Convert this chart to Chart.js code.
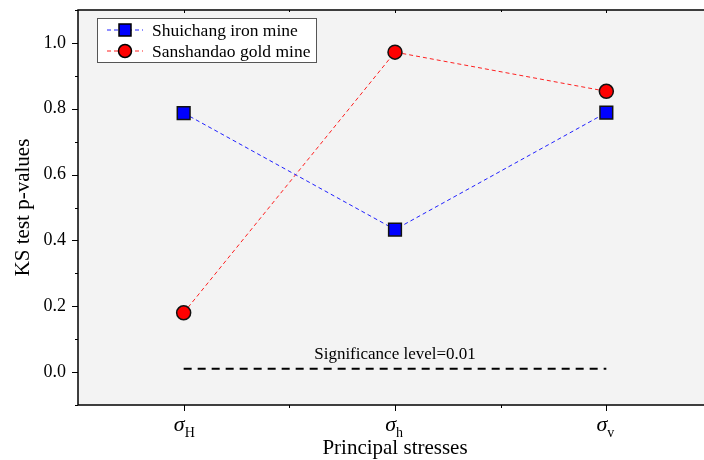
<!DOCTYPE html>
<html>
<head>
<meta charset="utf-8">
<script src="https://cdn.jsdelivr.net/npm/chart.js@4"></script>
<style>
  html, body { margin: 0; padding: 0; background: #fff; overflow: hidden; }
  #wrap { width: 716px; height: 460px; }
</style>
</head>
<body>
<div id="wrap"><canvas id="myChart" width="716" height="460"></canvas></div>
<script>
// categories (principal stresses) and their subscripts
const stressKeys = [1, 2, 3];
const stressSubs = ['H', 'h', 'v'];

// KS test p-values
const shuichang = [0.787, 0.433, 0.788];
const sanshandao = [0.180, 0.972, 0.853];

// significance level
const sigLevel = 0.01;

const yTicks = [0.0, 0.2, 0.4, 0.6, 0.8, 1.0];
const yMinor = [-0.1, 0.1, 0.3, 0.5, 0.7, 0.9, 1.1];
const xMinor = [1.5, 2.5];

const serif = '"Liberation Serif", "Times New Roman", serif';

// background, frame, minor ticks, x labels, legend, annotation
const decorations = {
    id: 'decorations',
    beforeDraw(chart) {
        const { ctx, chartArea: a } = chart;
        ctx.save();
        ctx.fillStyle = '#f3f3f3';
        ctx.fillRect(a.left, a.top, a.right - a.left, a.bottom - a.top);
        ctx.restore();
    },
    afterDatasetsDraw(chart) {
        const { ctx, chartArea: a, scales } = chart;
        const x = scales.x, y = scales.y;
        ctx.save();

        // significance label
        ctx.fillStyle = '#000';
        ctx.font = '17px ' + serif;
        ctx.textAlign = 'center';
        ctx.textBaseline = 'alphabetic';
        ctx.fillText('Significance level=0.01', x.getPixelForValue(2), y.getPixelForValue(sigLevel) - 10);

        // frame
        ctx.strokeStyle = '#000';
        ctx.lineWidth = 1.5;
        ctx.strokeRect(a.left, a.top, a.right - a.left, a.bottom - a.top);

        // major ticks (outside)
        ctx.lineWidth = 1;
        ctx.beginPath();
        yTicks.forEach(v => {
            const py = Math.round(y.getPixelForValue(v)) + 0.5;
            ctx.moveTo(a.left - 6, py); ctx.lineTo(a.left, py);
        });
        yMinor.forEach(v => {
            const py = Math.round(y.getPixelForValue(v)) + 0.5;
            ctx.moveTo(a.left - 3, py); ctx.lineTo(a.left, py);
        });
        stressKeys.forEach(v => {
            const px = Math.round(x.getPixelForValue(v)) + 0.5;
            ctx.moveTo(px, a.bottom); ctx.lineTo(px, a.bottom + 6);
            ctx.moveTo(px, a.top); ctx.lineTo(px, a.top + 3);
        });
        xMinor.forEach(v => {
            const px = Math.round(x.getPixelForValue(v)) + 0.5;
            ctx.moveTo(px, a.bottom); ctx.lineTo(px, a.bottom + 3);
            ctx.moveTo(px, a.top); ctx.lineTo(px, a.top + 2);
        });
        ctx.stroke();

        // x tick labels: sigma with subscript
        stressKeys.forEach((v, i) => {
            const px = x.getPixelForValue(v);
            ctx.textAlign = 'right';
            ctx.font = 'italic 22px ' + serif;
            ctx.fillText('\u03c3', px + 1, a.bottom + 26);
            ctx.textAlign = 'left';
            ctx.font = '14px ' + serif;
            ctx.fillText(stressSubs[i], px + 1, a.bottom + 32);
        });

        // legend
        const lx = 97, ly = 18, lw = 219, lh = 44;
        ctx.fillStyle = '#fff';
        ctx.fillRect(lx, ly, lw, lh);
        ctx.strokeStyle = '#555';
        ctx.lineWidth = 1;
        ctx.strokeRect(lx + 0.5, ly + 0.5, lw, lh);
        chart.data.datasets.slice(0, 2).forEach((ds, i) => {
            const cy = ly + 12 + i * 21;
            ctx.strokeStyle = ds.borderColor;
            ctx.lineWidth = 1;
            ctx.setLineDash([4, 3]);
            ctx.beginPath();
            ctx.moveTo(lx + 10, cy); ctx.lineTo(lx + 46, cy);
            ctx.stroke();
            ctx.setLineDash([]);
            ctx.fillStyle = ds.pointBackgroundColor;
            ctx.strokeStyle = '#000';
            ctx.lineWidth = 1.5;
            if (ds.pointStyle === 'rect') {
                ctx.fillRect(lx + 22, cy - 6, 12, 12);
                ctx.strokeRect(lx + 22, cy - 6, 12, 12);
            } else {
                ctx.beginPath();
                ctx.arc(lx + 28, cy, 6.5, 0, Math.PI * 2);
                ctx.fill(); ctx.stroke();
            }
            ctx.fillStyle = '#000';
            ctx.font = '17.5px ' + serif;
            ctx.textAlign = 'left';
            ctx.textBaseline = 'middle';
            ctx.fillText(ds.label, lx + 55, cy + 1);
        });
        ctx.restore();
    }
};

const ctx = document.getElementById('myChart').getContext('2d');
const myChart = new Chart(ctx, {
    type: 'scatter',
    data: {
        datasets: [
            {
                label: 'Shuichang iron mine',
                data: stressKeys.map((k, i) => ({ x: k, y: shuichang[i] })),
                showLine: true,
                borderColor: '#2020ff',
                borderWidth: 1,
                borderDash: [4, 3],
                pointStyle: 'rect',
                pointRadius: 9,
                pointBackgroundColor: '#0000ff',
                pointBorderColor: '#111',
                pointBorderWidth: 1.5
            },
            {
                label: 'Sanshandao gold mine',
                data: stressKeys.map((k, i) => ({ x: k, y: sanshandao[i] })),
                showLine: true,
                borderColor: '#ff2020',
                borderWidth: 1,
                borderDash: [4, 3],
                pointStyle: 'circle',
                pointRadius: 7,
                pointBackgroundColor: '#ff0000',
                pointBorderColor: '#111',
                pointBorderWidth: 1.5
            },
            {
                label: 'Significance level',
                data: [{ x: stressKeys[0], y: sigLevel }, { x: stressKeys[2], y: sigLevel }],
                showLine: true,
                borderColor: '#000',
                borderWidth: 2,
                borderDash: [8, 6],
                pointRadius: 0
            }
        ]
    },
    options: {
        responsive: false,
        animation: false,
        layout: { autoPadding: false, padding: { top: 10, right: 4, left: 0, bottom: 0 } },
        scales: {
            x: {
                type: 'linear',
                min: 0.5,
                max: 3.5,
                grid: { display: false },
                border: { display: false },
                ticks: { display: false },
                title: {
                    display: true,
                    text: 'Principal stresses',
                    color: '#000',
                    font: { family: serif, size: 21 },
                    padding: { top: 0, bottom: -1 }
                },
                afterFit(scale) { scale.height = 55; scale.paddingLeft = 0; scale.paddingRight = 0; }
            },
            y: {
                min: -0.1,
                max: 1.1,
                grid: { display: false },
                border: { display: false },
                afterBuildTicks(scale) { scale.ticks = yTicks.map(v => ({ value: v })); },
                ticks: {
                    color: '#000',
                    padding: 4,
                    font: { family: serif, size: 18 },
                    callback: v => v.toFixed(1)
                },
                title: {
                    display: true,
                    text: 'KS test p-values',
                    color: '#000',
                    font: { family: serif, size: 21 },
                    padding: { top: 11, bottom: 4 }
                },
                afterFit(scale) { scale.width = 78; scale.paddingTop = 0; scale.paddingBottom = 0; }
            }
        },
        plugins: {
            legend: { display: false },
            tooltip: { enabled: false }
        }
    },
    plugins: [decorations]
});
</script>
</body>
</html>
